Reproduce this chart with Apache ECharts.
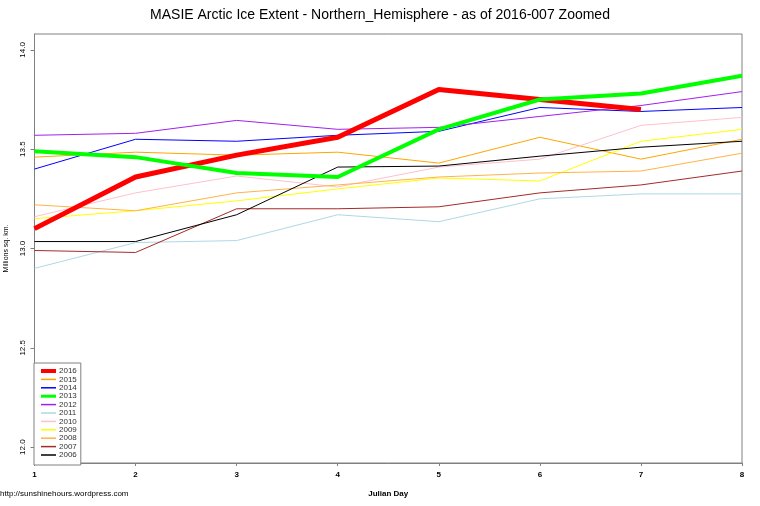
<!DOCTYPE html>
<html>
<head>
<meta charset="utf-8">
<script src="https://cdn.jsdelivr.net/npm/echarts@6/dist/echarts.min.js"></script>
<style>
  html, body { margin: 0; padding: 0; background: #fff; }
  #chart { width: 760px; height: 506px; }
</style>
</head>
<body>
<div id="chart"></div>
<script>
// Julian days on the x axis
const days = [1, 2, 3, 4, 5, 6, 7, 8];
const yTicks = [12.0, 12.5, 13.0, 13.5, 14.0];

// extent, millions sq. km, one array per year
const y2016 = [13.10, 13.36, 13.47, 13.56, 13.80, 13.75, 13.70];
const y2015 = [13.46, 13.485, 13.47, 13.485, 13.43, 13.56, 13.45, 13.55];
const y2014 = [13.40, 13.55, 13.54, 13.57, 13.59, 13.71, 13.69, 13.71];
const y2013 = [13.49, 13.46, 13.38, 13.36, 13.60, 13.75, 13.78, 13.87];
const y2012 = [13.57, 13.58, 13.645, 13.60, 13.61, 13.665, 13.72, 13.79];
const y2011 = [12.90, 13.03, 13.04, 13.17, 13.135, 13.25, 13.275, 13.275];
const y2010 = [13.16, 13.28, 13.365, 13.31, 13.41, 13.45, 13.62, 13.66];
const y2009 = [13.15, 13.19, 13.24, 13.30, 13.355, 13.34, 13.54, 13.60];
const y2008 = [13.22, 13.19, 13.28, 13.32, 13.36, 13.38, 13.39, 13.48];
const y2007 = [12.99, 12.98, 13.20, 13.20, 13.21, 13.28, 13.32, 13.39];
const y2006 = [13.035, 13.035, 13.17, 13.41, 13.415, 13.465, 13.51, 13.54];

const years = [
    {name: '2016', data: y2016, color: '#FF0000', width: 5, z: 4},
    {name: '2015', data: y2015, color: '#FFA500', width: 1, z: 2},
    {name: '2014', data: y2014, color: '#0000FF', width: 1, z: 2},
    {name: '2013', data: y2013, color: '#00FF00', width: 4, z: 5},
    {name: '2012', data: y2012, color: '#A020F0', width: 1, z: 2},
    {name: '2011', data: y2011, color: '#ADD8E6', width: 1, z: 2},
    {name: '2010', data: y2010, color: '#FFC0CB', width: 1, z: 2},
    {name: '2009', data: y2009, color: '#FFFF00', width: 1, z: 2},
    {name: '2008', data: y2008, color: '#FFB347', width: 1, z: 2},
    {name: '2007', data: y2007, color: '#A52A2A', width: 1, z: 2},
    {name: '2006', data: y2006, color: '#000000', width: 1, z: 2}
];

const font = 'Liberation Sans, Arial, sans-serif';
const myChart = echarts.init(document.getElementById('chart'));

const option = {
    backgroundColor: '#fff',
    animation: false,
    textStyle: {fontFamily: font},
    title: [
        {
            text: 'MASIE Arctic Ice Extent - Northern_Hemisphere - as of 2016-007 Zoomed',
            left: 'center',
            top: 3,
            textStyle: {fontSize: 14, fontWeight: 'normal', color: '#000', fontFamily: font}
        },
        {
            text: 'http://sunshinehours.wordpress.com',
            left: -5,
            top: 485,
            textStyle: {fontSize: 8, fontWeight: 'normal', color: '#000', fontFamily: font}
        }
    ],
    grid: {
        left: 34.5, right: 18, top: 34, bottom: 43,
        containLabel: false,
        outerBoundsMode: 'none',
        show: true, borderColor: '#808080', borderWidth: 1,
        backgroundColor: 'transparent'
    },
    legend: {
        orient: 'vertical',
        left: 34, top: 363,
        padding: [4, 4, 6, 5],
        itemWidth: 15, itemHeight: 6, itemGap: 0.4,
        backgroundColor: '#fff',
        borderColor: '#808080', borderWidth: 1, borderRadius: 0,
        itemStyle: {opacity: 0},
        textStyle: {fontSize: 8, color: '#333', fontFamily: font, padding: [0, 0, 0, -2]},
        data: years.map(y => ({
            name: y.name,
            lineStyle: {width: y.width > 1 ? y.width - 1 : 1.5}
        }))
    },
    xAxis: {
        type: 'value',
        min: 1, max: 8, interval: 1,
        name: 'Julian Day',
        nameLocation: 'middle',
        nameGap: 27,
        nameTextStyle: {fontSize: 8, fontWeight: 'bold', color: '#000'},
        splitLine: {show: false},
        axisLine: {show: true, lineStyle: {color: '#808080'}},
        axisTick: {show: true, length: 3, lineStyle: {color: '#808080'}},
        axisLabel: {fontSize: 8, fontWeight: 'bold', color: '#000', margin: 8}
    },
    yAxis: {
        type: 'value',
        min: 11.92, max: 14.08,
        name: 'Millions sq. km.',
        nameLocation: 'middle',
        nameRotate: 90,
        nameGap: 25,
        nameTextStyle: {fontSize: 7, color: '#000'},
        splitLine: {show: false},
        axisLine: {show: true, lineStyle: {color: '#808080'}},
        axisTick: {show: true, length: 4, customValues: yTicks, lineStyle: {color: '#808080'}},
        axisLabel: {
            fontSize: 8, color: '#000', rotate: 90, margin: 8,
            customValues: yTicks,
            formatter: v => v.toFixed(1)
        }
    },
    series: years.map(y => ({
        name: y.name,
        type: 'line',
        data: y.data.map((v, i) => [days[i], v]),
        symbol: 'none',
        z: y.z,
        itemStyle: {color: y.color},
        lineStyle: {color: y.color, width: y.width},
        emphasis: {disabled: true}
    }))
};

option && myChart.setOption(option);
</script>
</body>
</html>
